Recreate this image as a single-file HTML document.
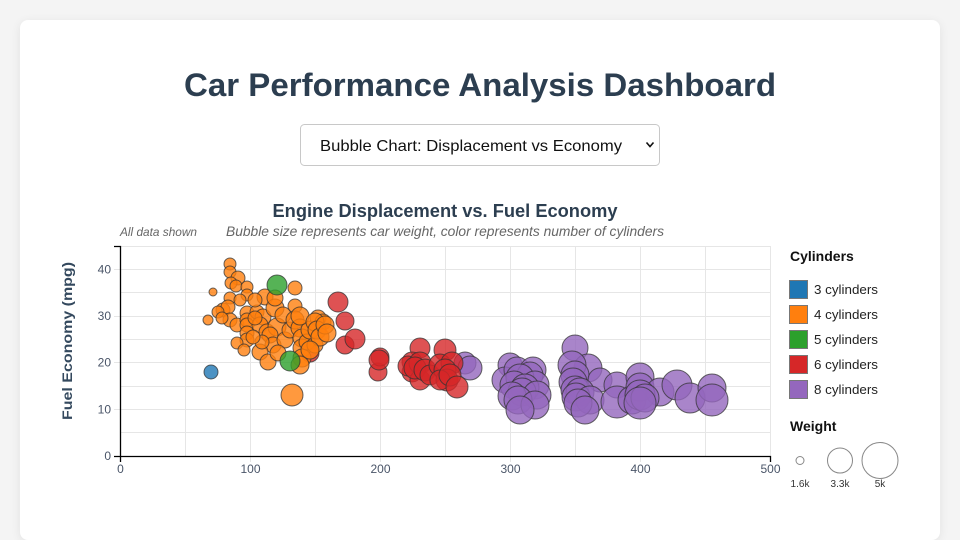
<!DOCTYPE html>
<html><head><meta charset="utf-8"><style>
html,body{margin:0;padding:0;width:960px;height:500px;overflow:hidden;background:#f4f4f4;}
.card{position:absolute;left:20px;top:20px;width:920px;height:520px;background:#fff;border-radius:8px;box-shadow:0 2px 10px rgba(0,0,0,0.08);}
svg{position:absolute;left:0;top:0;}
text{font-family:"Liberation Sans",sans-serif;}
.b circle{fill-opacity:0.8;stroke:#333;stroke-opacity:0.75;stroke-width:1;}
</style></head><body>
<div class="card"></div>
<svg width="960" height="500" viewBox="0 0 960 500">
<text x="480" y="96" text-anchor="middle" font-size="32" font-weight="bold" fill="#2c3e50" textLength="592" lengthAdjust="spacingAndGlyphs">Car Performance Analysis Dashboard</text>
<rect x="300.5" y="124.5" width="359" height="41" rx="4" fill="#fff" stroke="#c8c8c8"/>
<text x="320" y="151" font-size="16" fill="#111" textLength="302" lengthAdjust="spacingAndGlyphs">Bubble Chart: Displacement vs Economy</text>
<path d="M646.5,142.5 L650,146.5 L653.5,142.5" fill="none" stroke="#111" stroke-width="1.6"/>
<text x="445" y="217" text-anchor="middle" font-size="18" font-weight="bold" fill="#2c3e50" textLength="345" lengthAdjust="spacingAndGlyphs">Engine Displacement vs. Fuel Economy</text>
<text x="445" y="236" text-anchor="middle" font-size="14" font-style="italic" fill="#666" textLength="438" lengthAdjust="spacingAndGlyphs">Bubble size represents car weight, color represents number of cylinders</text>
<text x="120" y="236" font-size="12" font-style="italic" fill="#666" textLength="77" lengthAdjust="spacingAndGlyphs">All data shown</text>
<g stroke="#e6e6e6" stroke-width="1">
<line x1="185.5" y1="246" x2="185.5" y2="456"/><line x1="250.5" y1="246" x2="250.5" y2="462"/>
<line x1="315.5" y1="246" x2="315.5" y2="456"/><line x1="380.5" y1="246" x2="380.5" y2="462"/>
<line x1="445.5" y1="246" x2="445.5" y2="456"/><line x1="510.5" y1="246" x2="510.5" y2="462"/>
<line x1="575.5" y1="246" x2="575.5" y2="456"/><line x1="640.5" y1="246" x2="640.5" y2="462"/>
<line x1="705.5" y1="246" x2="705.5" y2="456"/><line x1="770.5" y1="246" x2="770.5" y2="456"/>
<line x1="120" y1="246.5" x2="770" y2="246.5"/><line x1="114" y1="269.5" x2="770" y2="269.5"/>
<line x1="120" y1="292.5" x2="770" y2="292.5"/><line x1="114" y1="316.5" x2="770" y2="316.5"/>
<line x1="120" y1="339.5" x2="770" y2="339.5"/><line x1="114" y1="362.5" x2="770" y2="362.5"/>
<line x1="120" y1="386.5" x2="770" y2="386.5"/><line x1="114" y1="409.5" x2="770" y2="409.5"/>
<line x1="120" y1="432.5" x2="770" y2="432.5"/>
</g>
<path d="M114,246.5H120.5V456.5H770.5V462M114,456.5H120.5V462" fill="none" stroke="#000" stroke-width="1.3"/>
<g font-size="12" fill="#4a5568" text-anchor="end">
<text x="111" y="460">0</text><text x="111" y="413.5">10</text><text x="111" y="366.5">20</text><text x="111" y="320">30</text><text x="111" y="273.5">40</text>
</g>
<g font-size="12" fill="#4a5568" text-anchor="middle">
<text x="120.5" y="473">0</text><text x="250.5" y="473">100</text><text x="380.5" y="473">200</text><text x="510.5" y="473">300</text><text x="640.5" y="473">400</text><text x="770.5" y="473">500</text>
</g>
<text transform="translate(72,341) rotate(-90)" text-anchor="middle" font-size="14" font-weight="bold" fill="#34495e" textLength="158" lengthAdjust="spacingAndGlyphs">Fuel Economy (mpg)</text>
<g class="b">
<g fill="#ff7f0e">
<circle cx="230" cy="264" r="6"/><circle cx="230" cy="272" r="6"/><circle cx="238" cy="278" r="7"/><circle cx="231" cy="283" r="6"/>
<circle cx="236" cy="286" r="6"/><circle cx="213" cy="292" r="4"/><circle cx="247" cy="287" r="6"/><circle cx="247" cy="295" r="6"/>
<circle cx="230" cy="298" r="6"/><circle cx="265" cy="297" r="8"/><circle cx="295" cy="288" r="7"/><circle cx="295" cy="306" r="7"/>
<circle cx="223" cy="310" r="7"/><circle cx="228" cy="307" r="7"/><circle cx="218" cy="312" r="6"/><circle cx="208" cy="320" r="5"/>
<circle cx="230" cy="320" r="7"/><circle cx="237" cy="325" r="7"/><circle cx="247" cy="313" r="7"/><circle cx="247" cy="320" r="7"/>
<circle cx="247" cy="325" r="7"/><circle cx="247" cy="333" r="7"/><circle cx="247" cy="340" r="7"/><circle cx="237" cy="343" r="6"/>
<circle cx="257" cy="312" r="7"/><circle cx="263" cy="317" r="8"/><circle cx="260" cy="325" r="8"/><circle cx="267" cy="332" r="8"/>
<circle cx="275" cy="308" r="9"/><circle cx="275" cy="298" r="8"/><circle cx="277" cy="327" r="9"/><circle cx="270" cy="335" r="8"/>
<circle cx="273" cy="345" r="8"/><circle cx="260" cy="352" r="8"/><circle cx="268" cy="362" r="8"/><circle cx="240" cy="300" r="6"/>
<circle cx="255" cy="300" r="7"/><circle cx="283" cy="315" r="8"/><circle cx="285" cy="340" r="8"/><circle cx="262" cy="342" r="7"/>
<circle cx="253" cy="337" r="7"/><circle cx="290" cy="330" r="8"/><circle cx="278" cy="353" r="8"/><circle cx="222" cy="318" r="6"/>
<circle cx="244" cy="350" r="6"/><circle cx="255" cy="318" r="7"/>
</g>
<g fill="#d62728">
<circle cx="310" cy="353" r="9"/><circle cx="338" cy="302" r="10"/><circle cx="345" cy="321" r="9"/><circle cx="345" cy="345" r="9"/><circle cx="355" cy="339" r="10"/>
</g>
<g fill="#ff7f0e">
<circle cx="295" cy="320" r="9"/><circle cx="300" cy="328" r="9"/><circle cx="302" cy="338" r="9"/><circle cx="302" cy="348" r="9"/>
<circle cx="302" cy="358" r="9"/><circle cx="307" cy="342" r="8"/><circle cx="300" cy="365" r="9"/><circle cx="315" cy="345" r="8"/>
<circle cx="310" cy="330" r="9"/><circle cx="318" cy="318" r="8"/><circle cx="323" cy="322" r="8"/><circle cx="300" cy="316" r="9"/>
<circle cx="315" cy="322" r="9"/><circle cx="317" cy="330" r="9"/><circle cx="320" cy="337" r="9"/><circle cx="325" cy="325" r="9"/>
<circle cx="327" cy="333" r="9"/><circle cx="310" cy="350" r="9"/><circle cx="292" cy="395" r="11"/>
</g>
<g fill="#2ca02c">
<circle cx="277" cy="285" r="10"/><circle cx="290" cy="361" r="10"/>
</g>
<circle cx="211" cy="372" r="7" fill="#1f77b4"/>
<g fill="#d62728">
<circle cx="378" cy="372" r="9"/><circle cx="380" cy="357" r="9"/><circle cx="379" cy="360" r="10"/>
<circle cx="420" cy="348" r="10"/><circle cx="412" cy="362" r="10"/><circle cx="412" cy="372" r="10"/><circle cx="408" cy="366" r="10"/>
<circle cx="420" cy="363" r="11"/><circle cx="420" cy="380" r="10"/><circle cx="415" cy="368" r="11"/><circle cx="425" cy="370" r="11"/>
<circle cx="430" cy="375" r="10"/><circle cx="445" cy="350" r="11"/>
</g>
<g fill="#9467bd">
<circle cx="465" cy="363" r="11"/><circle cx="470" cy="368" r="12"/>
</g>
<g fill="#d62728">
<circle cx="440" cy="365" r="11"/><circle cx="452" cy="363" r="11"/><circle cx="445" cy="370" r="11"/><circle cx="447" cy="380" r="11"/>
<circle cx="440" cy="380" r="10"/><circle cx="450" cy="375" r="11"/><circle cx="457" cy="387" r="11"/>
</g>
<g fill="#9467bd">
<circle cx="510" cy="365" r="12"/><circle cx="505" cy="380" r="13"/><circle cx="517" cy="370" r="13"/><circle cx="533" cy="370" r="13"/>
<circle cx="530" cy="375" r="13"/><circle cx="520" cy="378" r="14"/><circle cx="535" cy="385" r="14"/><circle cx="514" cy="385" r="14"/>
<circle cx="525" cy="388" r="14"/><circle cx="522" cy="392" r="14"/><circle cx="537" cy="395" r="14"/><circle cx="512" cy="396" r="14"/>
<circle cx="518" cy="400" r="14"/><circle cx="535" cy="405" r="14"/><circle cx="520" cy="410" r="14"/>
<circle cx="575" cy="348" r="13"/><circle cx="588" cy="368" r="14"/><circle cx="572" cy="365" r="14"/><circle cx="575" cy="375" r="14"/>
<circle cx="600" cy="380" r="12"/><circle cx="573" cy="382" r="14"/><circle cx="575" cy="390" r="14"/><circle cx="580" cy="392" r="14"/>
<circle cx="576" cy="397" r="14"/><circle cx="590" cy="400" r="14"/><circle cx="578" cy="403" r="14"/><circle cx="585" cy="410" r="14"/>
<circle cx="617" cy="385" r="13"/><circle cx="617" cy="402" r="16"/><circle cx="632" cy="400" r="14"/><circle cx="640" cy="377" r="14"/>
<circle cx="640" cy="387" r="14"/><circle cx="660" cy="392" r="14"/><circle cx="640" cy="395" r="15"/><circle cx="645" cy="398" r="14"/>
<circle cx="640" cy="403" r="16"/><circle cx="677" cy="385" r="15"/><circle cx="690" cy="398" r="15"/><circle cx="712" cy="388" r="14"/>
<circle cx="712" cy="400" r="16"/>
</g>
</g>
<text x="790" y="261" font-size="14" font-weight="bold" fill="#111">Cylinders</text>
<g stroke="#777" stroke-width="1">
<rect x="789.5" y="280.5" width="18" height="18" fill="#1f77b4"/>
<rect x="789.5" y="305.5" width="18" height="18" fill="#ff7f0e"/>
<rect x="789.5" y="330.5" width="18" height="18" fill="#2ca02c"/>
<rect x="789.5" y="355.5" width="18" height="18" fill="#d62728"/>
<rect x="789.5" y="380.5" width="18" height="18" fill="#9467bd"/>
</g>
<g font-size="13" fill="#222">
<text x="814" y="294" textLength="64" lengthAdjust="spacingAndGlyphs">3 cylinders</text>
<text x="814" y="319" textLength="64" lengthAdjust="spacingAndGlyphs">4 cylinders</text>
<text x="814" y="344" textLength="64" lengthAdjust="spacingAndGlyphs">5 cylinders</text>
<text x="814" y="369" textLength="64" lengthAdjust="spacingAndGlyphs">6 cylinders</text>
<text x="814" y="394" textLength="64" lengthAdjust="spacingAndGlyphs">8 cylinders</text>
</g>
<text x="790" y="431" font-size="14" font-weight="bold" fill="#111">Weight</text>
<g fill="none" stroke="#888" stroke-width="1">
<circle cx="800" cy="460.5" r="4"/><circle cx="840" cy="460.5" r="12.5"/><circle cx="880" cy="460.5" r="18"/>
</g>
<g font-size="10" fill="#333" text-anchor="middle">
<text x="800" y="487">1.6k</text><text x="840" y="487">3.3k</text><text x="880" y="487">5k</text>
</g>
</svg>
</body></html>
